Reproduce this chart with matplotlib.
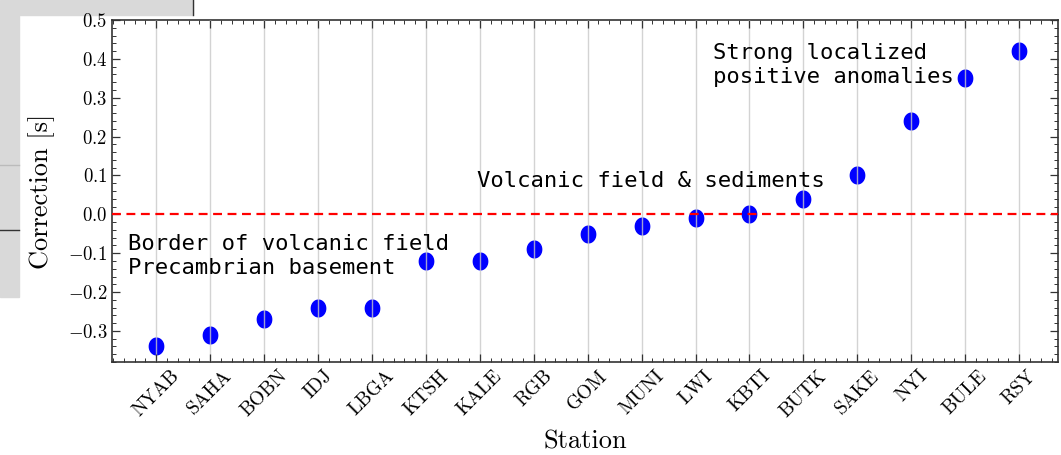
import numpy as np
import matplotlib
matplotlib.use("Agg")
import matplotlib.pyplot as plt
from matplotlib.path import Path
from matplotlib.ticker import AutoMinorLocator, MultipleLocator
from matplotlib.patches import Rectangle
from matplotlib.lines import Line2D

# stations sorted by correction
stations = ["NYAB", "SAHA", "BOBN", "IDJ", "LBGA", "KTSH", "KALE", "RGB", "GOM",
            "MUNI", "LWI", "KBTI", "BUTK", "SAKE", "NYI", "BULE", "RSY"]
corrections = [-0.34, -0.31, -0.27, -0.24, -0.24, -0.12, -0.12, -0.09, -0.05,
               -0.03, -0.01, 0.00, 0.04, 0.10, 0.24, 0.35, 0.42]

plt.rcParams["font.family"] = "serif"
plt.rcParams["font.serif"] = ["cmr10"]
plt.rcParams["mathtext.fontset"] = "cm"
plt.rcParams["axes.formatter.use_mathtext"] = True
plt.rcParams["axes.unicode_minus"] = True

W, H = 1061, 455
fig = plt.figure(figsize=(W / 100, H / 100), dpi=100)
ax = fig.add_axes([112 / W, 1 - 362 / H, (1058 - 112) / W, (362 - 20) / H])

# screenshot leftovers around the figure (grey window behind)
def px_rect(x0, y0, x1, y1, color):
    fig.patches.append(Rectangle((x0 / W, 1 - y1 / H), (x1 - x0) / W, (y1 - y0) / H,
                                 transform=fig.transFigure, color=color, zorder=-5))

px_rect(0, 0, 193, 15, "#d9d9d9")
px_rect(0, 15, 19, 297, "#d9d9d9")
fig.lines.append(Line2D([193 / W, 193 / W], [1, 1 - 15 / H], transform=fig.transFigure,
                        color="#333333", lw=1))
fig.lines.append(Line2D([0, 19 / W], [1 - 230 / H, 1 - 230 / H], transform=fig.transFigure,
                        color="#333333", lw=1))
fig.lines.append(Line2D([0, 19 / W], [1 - 165 / H, 1 - 165 / H], transform=fig.transFigure,
                        color="#bbbbbb", lw=1))

x = np.arange(len(stations))

# slightly tall ellipse marker (the screenshot is squeezed horizontally)
t = np.linspace(0, 2 * np.pi, 60)
ell = Path(np.column_stack([0.86 * np.cos(t), np.sin(t)]), closed=True)

ax.plot(x, corrections, linestyle="none", marker=ell, markersize=12,
        color="blue", zorder=2)
ax.axhline(0, color="red", linestyle="--", linewidth=1.6, dashes=(4, 2.5), zorder=3)

ax.set_xticks(x)
ax.set_xticklabels(stations, rotation=45, ha="center", fontsize=14)
ax.set_xlim(-0.82, 16.72)
ax.set_ylim(-0.38, 0.5)
ax.yaxis.set_major_locator(MultipleLocator(0.1))
ax.yaxis.set_minor_locator(AutoMinorLocator(5))
ax.xaxis.set_minor_locator(MultipleLocator(0.2))
ax.tick_params(axis="y", labelsize=13.5)
ax.tick_params(which="both", direction="in", top=True, right=True, color="#333333")
ax.tick_params(which="major", length=6, width=0.9)
ax.tick_params(which="minor", length=3, width=0.7)
ax.grid(axis="x", color="#c8c8c8", linewidth=1.0, alpha=0.8, zorder=2.5)
ax.set_axisbelow(False)
for s in ax.spines.values():
    s.set_color("#333333")
    s.set_linewidth(1.2)

ax.set_xlabel("Station", fontsize=19)
ax.set_ylabel("Correction [s]", fontsize=19)
ax.xaxis.set_label_coords(0.5, -0.199)
ax.yaxis.set_label_coords(-0.060, 0.5)

mono = dict(family="DejaVu Sans Mono", fontsize=16, linespacing=1.27)
ax.text(-0.52, -0.108, "Border of volcanic field\nPrecambrian basement",
        ha="left", va="center", **mono)
ax.text(5.94, 0.085, "Volcanic field & sediments", ha="left", va="center", **mono)
ax.text(10.33, 0.385, "Strong localized\npositive anomalies", ha="left", va="center", **mono)

fig.savefig("out.png", dpi=100)
